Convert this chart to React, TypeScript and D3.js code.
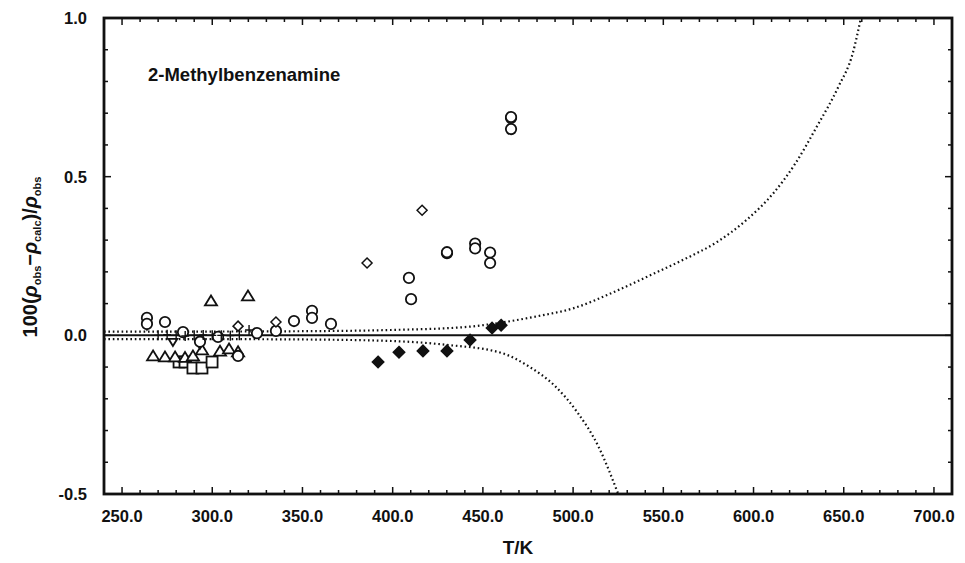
import React from 'react';
import * as d3 from 'd3';

// open circles: [T, deviation]
const circleT = [263.8, 263.8, 273.8, 283.8, 293.2, 303.2, 314.3, 324.8, 335.3, 345.3, 355.3, 355.3, 365.8, 409, 410.2, 430.1, 430.1, 445.7, 445.7, 454, 454, 465.6, 465.6, 465.6];
const circleV = [0.055, 0.036, 0.042, 0.01, -0.02, -0.005, -0.065, 0.007, 0.014, 0.045, 0.077, 0.055, 0.036, 0.181, 0.114, 0.259, 0.262, 0.289, 0.274, 0.261, 0.228, 0.685, 0.688, 0.65];

const diamondT = [314.3, 335.3, 385.8, 416.3];
const diamondV = [0.029, 0.042, 0.228, 0.394];

const filledT = [391.9, 403.5, 416.8, 430.1, 442.9, 455.1, 460.1];
const filledV = [-0.084, -0.053, -0.049, -0.049, -0.015, 0.023, 0.032];

const triT = [267.2, 273.8, 279.4, 284.9, 289.3, 294.3, 304.3, 309.3, 314.3, 299.3, 319.8];
const triV = [-0.065, -0.068, -0.068, -0.07, -0.065, -0.046, -0.05, -0.043, -0.052, 0.108, 0.124];

const squareT = [281.6, 284.9, 289.3, 294.3, 299.9];
const squareV = [-0.084, -0.084, -0.103, -0.103, -0.084];

const downT = [263.8, 278.2, 293.2];
const downV = [0.03, -0.021, -0.03];

const plusT = [270, 275, 280, 285, 290, 295, 300, 305, 310, 315, 320.4];
const plusV = [0, 0.002, 0, -0.002, 0, 0.001, 0, 0, -0.001, 0, 0.017];

// dotted uncertainty curves
const upperT = [240, 300, 350, 400, 440, 460, 480, 500, 524, 543, 561, 580, 596, 611, 623, 635, 647, 655, 659.5];
const upperV = [0.012, 0.012, 0.013, 0.017, 0.026, 0.04, 0.06, 0.085, 0.14, 0.19, 0.238, 0.295, 0.363, 0.448, 0.54, 0.657, 0.783, 0.889, 1.0];
const lowerT = [240, 300, 350, 400, 430, 460, 476, 490, 502, 514, 525];
const lowerV = [-0.012, -0.012, -0.013, -0.018, -0.03, -0.055, -0.1, -0.16, -0.24, -0.35, -0.5];

const xTicks = [250, 300, 350, 400, 450, 500, 550, 600, 650, 700];
const yTicks = [1.0, 0.5, 0.0, -0.5];

const W = 965, H = 563;
const left = 104, right = 952, top = 18, bottom = 494;
const font = "'Liberation Sans', Arial, Helvetica, sans-serif";

export default function App() {
  const x = d3.scaleLinear().domain([240, 710]).range([left, right]);
  const y = d3.scaleLinear().domain([-0.5, 1.0]).range([bottom, top]);

  const minorX = d3.range(240, 711, 10);
  const minorY = d3.range(-5, 11).map((d) => d / 10);

  const line = d3.line<number>()
    .x((d, i) => x(upperT[i]))
    .y((d) => y(d))
    .curve(d3.curveMonotoneX);
  const lineLow = d3.line<number>()
    .x((d, i) => x(lowerT[i]))
    .y((d) => y(d))
    .curve(d3.curveMonotoneX);

  const diamond = (s: number) => `M0,${-s}L${s},0L0,${s}L${-s},0Z`;
  const tri = (s: number) => `M0,${-s}L${s * 1.1},${s * 0.8}L${-s * 1.1},${s * 0.8}Z`;
  const down = (s: number) => `M0,${s}L${s * 1.1},${-s * 0.8}L${-s * 1.1},${-s * 0.8}Z`;

  return (
    <svg width={W} height={H} style={{ position: 'absolute', left: 0, top: 0, background: 'white' }}>
      <defs>
        <clipPath id="plot">
          <rect x={left} y={top} width={right - left} height={bottom - top} />
        </clipPath>
      </defs>

      {/* ticks */}
      <g stroke="#111" strokeWidth={1.5}>
        {minorX.map((t) => {
          const len = t % 50 === 0 ? 7 : 4;
          return (
            <g key={'x' + t}>
              <line x1={x(t)} x2={x(t)} y1={bottom} y2={bottom - len} />
              <line x1={x(t)} x2={x(t)} y1={top} y2={top + len} />
            </g>
          );
        })}
        {minorY.map((t) => {
          const len = Math.abs(Math.round(t * 10)) % 5 === 0 ? 7 : 4;
          return (
            <g key={'y' + t}>
              <line x1={left} x2={left + len} y1={y(t)} y2={y(t)} />
              <line x1={right} x2={right - len} y1={y(t)} y2={y(t)} />
            </g>
          );
        })}
      </g>

      {/* zero line */}
      <line x1={left} x2={right} y1={y(0)} y2={y(0)} stroke="#111" strokeWidth={2} />

      <g clipPath="url(#plot)" fill="none" stroke="#111" strokeWidth={2.2} strokeDasharray="1.6 2.8">
        <path d={line(upperV) || ''} />
        <path d={lineLow(lowerV) || ''} />
      </g>

      {/* markers */}
      <g fill="white" stroke="#111" strokeWidth={1.8}>
        {squareT.map((t, i) => (
          <rect key={'s' + i} x={x(t) - 5.5} y={y(squareV[i]) - 5.5} width={11} height={11} />
        ))}
        {triT.map((t, i) => (
          <path key={'t' + i} d={tri(5.5)} transform={`translate(${x(t)},${y(triV[i])})`} />
        ))}
        {downT.map((t, i) => (
          <path key={'d' + i} d={down(4)} transform={`translate(${x(t)},${y(downV[i])})`} />
        ))}
        {circleT.map((t, i) => (
          <circle key={'c' + i} cx={x(t)} cy={y(circleV[i])} r={5.2} />
        ))}
        {diamondT.map((t, i) => (
          <path key={'o' + i} d={diamond(5)} strokeWidth={1.5} transform={`translate(${x(t)},${y(diamondV[i])})`} />
        ))}
        {filledT.map((t, i) => (
          <path key={'f' + i} d={diamond(5.5)} fill="#111" transform={`translate(${x(t)},${y(filledV[i])})`} />
        ))}
        {plusT.map((t, i) => (
          <path key={'p' + i} d="M-4,0H4M0,-5V5" strokeWidth={1.4} transform={`translate(${x(t)},${y(plusV[i])})`} />
        ))}
      </g>

      {/* frame */}
      <rect x={left} y={top} width={right - left} height={bottom - top} fill="none" stroke="#111" strokeWidth={2.8} />

      {/* tick labels */}
      <g fontFamily={font} fontWeight="bold" fontSize={16.5} fill="#111">
        {xTicks.map((t) => (
          <text key={'xl' + t} x={x(t)} y={bottom + 28} textAnchor="middle">{t.toFixed(1)}</text>
        ))}
        {yTicks.map((t) => (
          <text key={'yl' + t} x={87} y={y(t) + 6} textAnchor="end">{t.toFixed(1)}</text>
        ))}
      </g>

      <text x={148} y={81} fontFamily={font} fontWeight="bold" fontSize={18.5} fill="#111">2-Methylbenzenamine</text>

      <text x={(left + right) / 2 - 10} y={554} textAnchor="middle" fontFamily={font} fontWeight="bold" fontSize={19} fill="#111">T/K</text>

      <text transform="translate(37,257) rotate(-90)" textAnchor="middle" fontFamily={font} fontWeight="bold" fontSize={20} fill="#111">
        100(<tspan fontStyle="italic">ρ</tspan><tspan fontSize={11} dy={4}>obs</tspan><tspan dy={-4}>−</tspan><tspan fontStyle="italic">ρ</tspan><tspan fontSize={11} dy={4}>calc</tspan><tspan dy={-4}>)/</tspan><tspan fontStyle="italic">ρ</tspan><tspan fontSize={11} dy={4}>obs</tspan>
      </text>
    </svg>
  );
}
